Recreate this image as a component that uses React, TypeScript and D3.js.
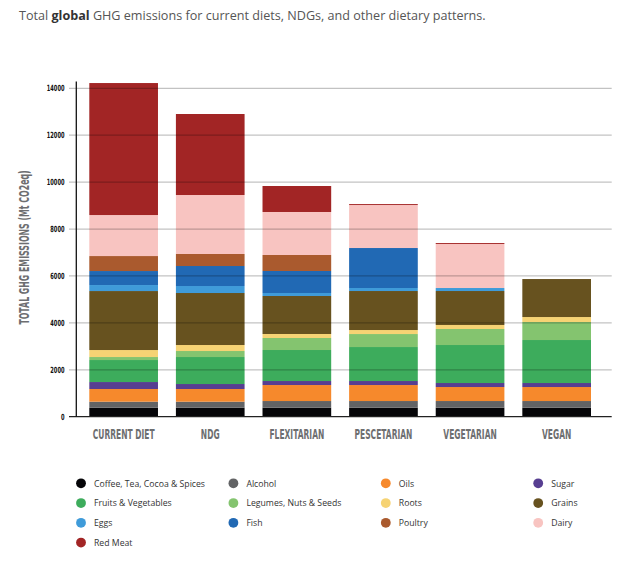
import React from "react";
import * as d3 from "d3";

const diets = ["CURRENT DIET", "NDG", "FLEXITARIAN", "PESCETARIAN", "VEGETARIAN", "VEGAN"];
const foodGroups = [
  "Coffee, Tea, Cocoa & Spices", "Alcohol", "Oils", "Sugar",
  "Fruits & Vegetables", "Legumes, Nuts & Seeds", "Roots", "Grains",
  "Eggs", "Fish", "Poultry", "Dairy", "Red Meat",
];
const groupColors = [
  "#050508", "#626365", "#f6892c", "#573e91",
  "#3dac5c", "#84c46f", "#f6d374", "#67521f",
  "#3f9bd9", "#2169b4", "#aa5a2e", "#f8c4c1", "#a22525",
];
// values per food group, in order of diets (Mt CO2eq)
const coffee = [384, 384, 384, 384, 384, 384];
const alcohol = [256, 256, 284, 284, 284, 284];
const oils = [540, 540, 682, 682, 597, 597];
const sugar = [298, 213, 171, 171, 171, 171];
const fruitsVeg = [938, 1151, 1322, 1449, 1620, 1833];
const legumes = [128, 256, 512, 554, 682, 767];
const roots = [298, 256, 171, 171, 171, 213];
const grains = [2515, 2217, 1620, 1663, 1449, 1620];
const eggs = [256, 298, 128, 128, 128, 0];
const fish = [597, 853, 938, 1705, 0, 0];
const poultry = [639, 512, 682, 0, 0, 0];
const dairy = [1748, 2515, 1833, 1833, 1876, 0];
const redMeat = [5627, 3453, 1108, 40, 40, 0];
const seriesValues = [coffee, alcohol, oils, sugar, fruitsVeg, legumes, roots, grains, eggs, fish, poultry, dairy, redMeat];
const yTicks = [0, 2000, 4000, 6000, 8000, 10000, 12000, 14000];

const condensed = "'DejaVu Sans', Roboto, sans-serif";

export default function App() {
  const W = 643, H = 568;
  const x0 = 76.3, x1 = 611.7;
  const y = d3.scaleLinear().domain([0, 14000]).range([416.7, 88.3]);
  const x = d3.scaleBand<string>().domain(diets).range([89.3, 591.0]).paddingInner(0.207).paddingOuter(0);

  const rows = diets.map((d, i) => {
    const o: Record<string, number | string> = { diet: d };
    foodGroups.forEach((g, j) => (o[g] = seriesValues[j][i]));
    return o;
  });
  const stack = d3.stack<Record<string, number | string>>().keys(foodGroups)(rows as any);

  return (
    <svg width={W} height={H} style={{ position: "absolute", left: 0, top: 0, background: "#fff" }}
      fontFamily="'Open Sans', sans-serif">
      <text x={19} y={19.5} fontSize={12.6} fill="#555">
        Total <tspan fontWeight="bold" fill="#333">global</tspan> GHG emissions for current diets, NDGs, and other dietary patterns.
      </text>

      {/* bars */}
      {stack.map((layer, j) => (
        <g key={foodGroups[j]} fill={groupColors[j]}>
          {layer.map((seg, i) => {
            const h = y(seg[0]) - y(seg[1]);
            if (h <= 0) return null;
            return <rect key={i} x={x(diets[i])!} width={x.bandwidth()} y={y(seg[1])} height={h} />;
          })}
        </g>
      ))}

      {/* grid lines over bars */}
      {yTicks.filter(t => t > 0).map(t => (
        <line key={t} x1={69} x2={x1} y1={y(t)} y2={y(t)} stroke="#000" strokeOpacity={0.24} strokeWidth={1.2} />
      ))}
      <line x1={69} x2={x1} y1={y(0)} y2={y(0)} stroke="#222" strokeWidth={1.2} />
      <line x1={x0} x2={x0} y1={81.5} y2={y(0)} stroke="#111" strokeWidth={1.3} />

      {/* y tick labels */}
      {yTicks.map(t => (
        <g key={t} transform={`translate(64.5,${y(t) + 3}) scale(0.6,1)`}>
          <text textAnchor="end" fontSize={8.5} fontWeight="bold" fill="#111" fontFamily={condensed}>{t}</text>
        </g>
      ))}

      {/* y axis title */}
      <g transform={`translate(29,247.5) rotate(-90) scale(0.56,1)`}>
        <text textAnchor="middle" fontSize={14} fontWeight="bold" fill="#6d6e70" fontFamily={condensed}>
          TOTAL GHG EMISSIONS (Mt CO2eq)
        </text>
      </g>

      {/* x labels */}
      {diets.map(d => (
        <g key={d} transform={`translate(${x(d)! + x.bandwidth() / 2},439) scale(0.52,1)`}>
          <text textAnchor="middle" fontSize={14.5} fontWeight="bold" fill="#6d6e70" fontFamily={condensed}>{d}</text>
        </g>
      ))}

      {/* legend */}
      {foodGroups.map((g, j) => {
        const col = j % 4, row = Math.floor(j / 4);
        const cx = 81 + col * 152.4, cy = 483.3 + row * 19.75;
        return (
          <g key={g}>
            <circle cx={cx} cy={cy} r={4.9} fill={groupColors[j]} />
            <text x={cx + 13} y={cy + 3.2} fontSize={8.7} fill="#333">{g}</text>
          </g>
        );
      })}
    </svg>
  );
}
